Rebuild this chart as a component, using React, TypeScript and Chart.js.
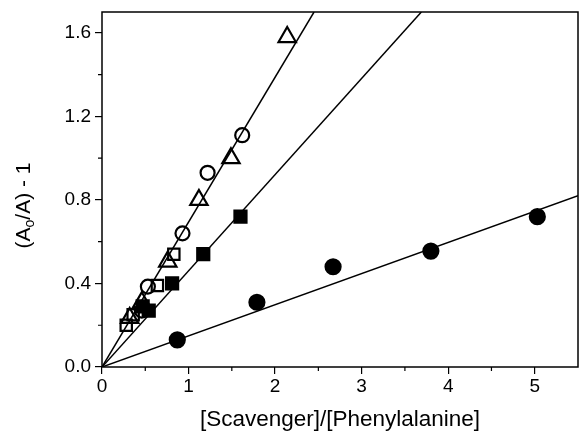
import React, { useEffect, useRef } from "react";
import { Chart, registerables } from "chart.js";
Chart.register(...registerables);

// Data
const openTriX = [0.32, 0.46, 0.76, 1.12, 1.49, 2.14];
const openTriY = [0.235, 0.31, 0.505, 0.8, 1.0, 1.58];
const openCircX = [0.46, 0.53, 0.93, 1.22, 1.62];
const openCircY = [0.27, 0.385, 0.64, 0.93, 1.11];
const openSqX = [0.28, 0.36, 0.64, 0.83];
const openSqY = [0.2, 0.25, 0.39, 0.54];
const fillSqX = [0.47, 0.54, 0.81, 1.17, 1.6];
const fillSqY = [0.29, 0.27, 0.4, 0.54, 0.72];
const fillCircX = [0.87, 1.79, 2.67, 3.8, 5.03];
const fillCircY = [0.13, 0.31, 0.48, 0.555, 0.72];
// fitted lines (endpoints)
const fit1X = [0, 2.45];
const fit1Y = [0, 1.7];
const fit2X = [0, 3.69];
const fit2Y = [0, 1.7];
const fit3X = [0, 5.5];
const fit3Y = [0, 0.82];

const xTicks = [0, 1, 2, 3, 4, 5];
const xMinor = [0.5, 1.5, 2.5, 3.5, 4.5];
const yTicks = [0, 0.4, 0.8, 1.2, 1.6];
const yMinor = [0.2, 0.6, 1.0, 1.4];

const yTitleMain1 = "(A";
const yTitleSub = "o";
const yTitleMain2 = "/A) - 1";

const pts = (xs: number[], ys: number[]) => xs.map((x, i) => ({ x, y: ys[i] }));

const FONT = "Liberation Sans, Arial, sans-serif";

const framePlugin = {
  id: "frame",
  afterDraw(chart: any) {
    const { ctx, chartArea: a, scales } = chart;
    ctx.save();
    ctx.strokeStyle = "#000";
    ctx.lineWidth = 1.5;
    ctx.strokeRect(a.left, a.top, a.right - a.left, a.bottom - a.top);
    ctx.lineWidth = 1.2;
    ctx.beginPath();
    xMinor.forEach((v) => {
      const px = scales.x.getPixelForValue(v);
      ctx.moveTo(px, a.bottom);
      ctx.lineTo(px, a.bottom + 4);
    });
    yMinor.forEach((v) => {
      const py = scales.y.getPixelForValue(v);
      ctx.moveTo(a.left, py);
      ctx.lineTo(a.left - 4, py);
    });
    ctx.stroke();

    // y-axis title with subscript
    const cy = (a.top + a.bottom) / 2 + 16;
    const cx = 24;
    ctx.translate(cx, cy);
    ctx.rotate(-Math.PI / 2);
    ctx.fillStyle = "#000";
    ctx.textBaseline = "middle";
    ctx.textAlign = "left";
    const mainFont = `21px ${FONT}`;
    const subFont = `14px ${FONT}`;
    ctx.font = mainFont;
    const w1 = ctx.measureText(yTitleMain1).width;
    const w3 = ctx.measureText(yTitleMain2).width;
    ctx.font = subFont;
    const w2 = ctx.measureText(yTitleSub).width;
    const total = w1 + w2 + w3;
    let x0 = -total / 2;
    ctx.font = mainFont;
    ctx.fillText(yTitleMain1, x0, 0);
    x0 += w1;
    ctx.font = subFont;
    ctx.fillText(yTitleSub, x0, 6);
    x0 += w2;
    ctx.font = mainFont;
    ctx.fillText(yTitleMain2, x0, 0);
    ctx.restore();
  },
};

export default function App() {
  const ref = useRef<HTMLCanvasElement>(null);
  useEffect(() => {
    document.body.style.margin = "0";
    const lineDs = (xs: number[], ys: number[]) => ({
      type: "line" as const,
      data: pts(xs, ys),
      borderColor: "#000",
      borderWidth: 1.5,
      pointRadius: 0,
      fill: false,
      order: 0,
    });
    const markDs = (xs: number[], ys: number[], style: string, filled: boolean, r: number) => ({
      type: "scatter" as const,
      data: pts(xs, ys),
      pointStyle: style,
      pointRadius: r,
      pointBorderWidth: 2.2,
      pointBorderColor: "#000",
      pointBackgroundColor: filled ? "#000" : "rgba(255,255,255,0)",
      borderColor: "#000",
      backgroundColor: filled ? "#000" : "rgba(255,255,255,0)",
      order: 1,
    });
    const chart = new Chart(ref.current!, {
      type: "scatter",
      data: {
        datasets: [
          lineDs(fit1X, fit1Y),
          lineDs(fit2X, fit2Y),
          lineDs(fit3X, fit3Y),
          markDs(openTriX, openTriY, "triangle", false, 10),
          markDs(openCircX, openCircY, "circle", false, 7),
          markDs(openSqX, openSqY, "rect", false, 8),
          markDs(fillSqX, fillSqY, "rect", true, 8.5),
          markDs(fillCircX, fillCircY, "circle", true, 7.5),
        ] as any,
      },
      plugins: [framePlugin],
      options: {
        animation: false,
        responsive: false,
        clip: true as any,
        layout: { autoPadding: false, padding: { top: 12, right: 1, left: 0, bottom: 0 } },
        plugins: { legend: { display: false }, tooltip: { enabled: false } },
        scales: {
          x: {
            type: "linear",
            min: 0,
            max: 5.5,
            afterBuildTicks: (s: any) => {
              s.ticks = xTicks.map((v) => ({ value: v }));
            },
            afterFit: (s: any) => {
              s.height = 66;
              s.paddingRight = 0;
              s.paddingLeft = 0;
            },
            grid: { drawOnChartArea: false, tickLength: 7, color: "#000", lineWidth: 1.2 },
            border: { display: false },
            ticks: {
              color: "#000",
              font: { family: FONT, size: 19 },
              padding: 1,
              callback: (v: any) => String(v),
            },
            title: {
              display: true,
              text: "[Scavenger]/[Phenylalanine]",
              color: "#000",
              font: { family: FONT, size: 22.5 },
              padding: { top: 0, bottom: 0 },
            },
          },
          y: {
            type: "linear",
            min: 0,
            max: 1.7,
            afterBuildTicks: (s: any) => {
              s.ticks = yTicks.map((v) => ({ value: v }));
            },
            afterFit: (s: any) => {
              s.width = 102;
              s.paddingTop = 0;
              s.paddingBottom = 0;
            },
            grid: { drawOnChartArea: false, tickLength: 7, color: "#000", lineWidth: 1.2 },
            border: { display: false },
            ticks: {
              color: "#000",
              font: { family: FONT, size: 19 },
              padding: 4,
              callback: (v: any) => Number(v).toFixed(1),
            },
            title: { display: false },
          },
        },
      },
    });
    return () => chart.destroy();
  }, []);
  return (
    <div style={{ width: 579, height: 433, background: "#fff" }}>
      <canvas ref={ref} width={579} height={433} style={{ display: "block" }} />
    </div>
  );
}
